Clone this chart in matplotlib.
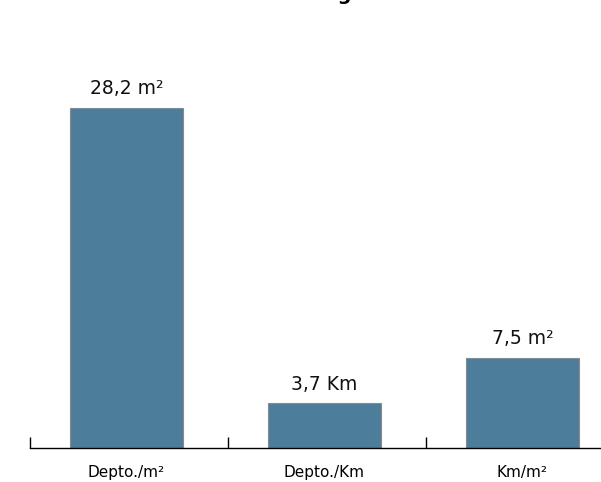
import matplotlib
matplotlib.use("Agg")
import matplotlib.pyplot as plt

# data
categories = ["Depto./m²", "Depto./Km", "Km/m²"]
values = [28.2, 3.7, 7.5]
value_labels = ["28,2 m²", "3,7 Km", "7,5 m²"]
title = "Unidades de segmentación"

W, H = 601, 482
fig = plt.figure(figsize=(W / 100, H / 100), dpi=100)

# axes spans past the right edge (as in the reference)
left, bottom = 30 / W, (H - 448) / H
ax = fig.add_axes([left, bottom, 594 / W, (448 - 30) / H])

x = list(range(len(categories)))
xb = [xi - 0.013 for xi in x]   # bars sit a little left of centre
ax.bar(xb, values, width=0.57, color="#4c7e9b", edgecolor="#8a8a8a", linewidth=0.8)

for xi, v, lab in zip(xb, values, value_labels):
    ax.text(xi, v + 1.15, lab, ha="center", va="baseline", fontsize=13.5, color="#111111")

ax.set_xlim(-0.5, 2.5)
ax.set_ylim(0, 34.66)

for s in ["top", "right", "left"]:
    ax.spines[s].set_visible(False)
ax.spines["bottom"].set_linewidth(1.0)
ax.set_yticks([])

ax.set_xticks(xb)
ax.set_xticklabels(categories, fontsize=11)
ax.tick_params(axis="x", which="major", length=0, pad=12)
ax.set_xticks([-0.5, 0.5, 1.5], minor=True)
ax.tick_params(axis="x", which="minor", direction="in", length=8, width=1)

# title is mostly clipped off the top edge in the reference
fig.text(0.53, 1 + 0.5 / H, title, ha="center", va="baseline", fontsize=14, fontweight="bold")

fig.savefig("out.png", dpi=100)
